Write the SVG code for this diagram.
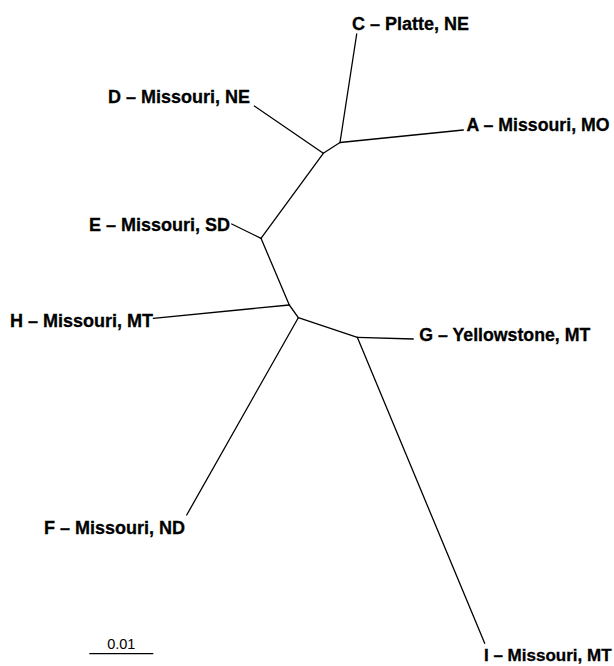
<svg xmlns="http://www.w3.org/2000/svg" width="614" height="666" viewBox="0 0 614 666">
<style>
.lbl{font-family:"Liberation Sans",Arial,sans-serif;font-weight:bold;font-size:18px;fill:#000;stroke:#000;stroke-width:0.3}
.br{stroke:#000;stroke-width:1.3;fill:none;stroke-linecap:round}
.sc{font-family:"Liberation Sans",Arial,sans-serif;font-size:14.5px;fill:#000}
</style>
<rect width="614" height="666" fill="#fff"/>
<g id="connectors">
<line class="br" x1="340" y1="142.5" x2="356.7" y2="34"/>
<line class="br" x1="340" y1="142.5" x2="463.3" y2="130"/>
<line class="br" x1="340" y1="142.5" x2="323.3" y2="153.3"/>
<line class="br" x1="323.3" y1="153.3" x2="254.3" y2="106"/>
<line class="br" x1="323.3" y1="153.3" x2="261" y2="238.3"/>
<line class="br" x1="261" y1="238.3" x2="231.7" y2="224"/>
<line class="br" x1="261" y1="238.3" x2="289.3" y2="305"/>
<line class="br" x1="289.3" y1="305" x2="153.3" y2="318.3"/>
<line class="br" x1="289.3" y1="305" x2="298.3" y2="317.7"/>
<line class="br" x1="298.3" y1="317.7" x2="357.3" y2="337.3"/>
<line class="br" x1="357.3" y1="337.3" x2="413.3" y2="339"/>
<line class="br" x1="298.3" y1="317.7" x2="186.7" y2="515"/>
<line class="br" x1="357.3" y1="337.3" x2="484.7" y2="643.3"/>
</g>
<g id="node-C"><text class="lbl" x="352" y="30">C – Platte, NE</text></g>
<g id="node-D"><text class="lbl" x="250" y="103" text-anchor="end">D – Missouri, NE</text></g>
<g id="node-A"><text class="lbl" x="466.5" y="131" textLength="143" lengthAdjust="spacingAndGlyphs">A – Missouri, MO</text></g>
<g id="node-E"><text class="lbl" x="230" y="231" text-anchor="end">E – Missouri, SD</text></g>
<g id="node-H"><text class="lbl" x="153" y="326.7" text-anchor="end">H – Missouri, MT</text></g>
<g id="node-G"><text class="lbl" x="419.3" y="340.7" textLength="171" lengthAdjust="spacingAndGlyphs">G – Yellowstone, MT</text></g>
<g id="node-F"><text class="lbl" x="185" y="534.3" text-anchor="end">F – Missouri, ND</text></g>
<g id="node-I"><text class="lbl" x="484" y="661" style="font-size:17px">I – Missouri, MT</text></g>
<g id="scale-bar">
<line x1="89.3" y1="653.7" x2="153.3" y2="653.7" stroke="#000" stroke-width="1.3"/>
<text class="sc" x="121.3" y="649.3" text-anchor="middle">0.01</text>
</g>
</svg>
